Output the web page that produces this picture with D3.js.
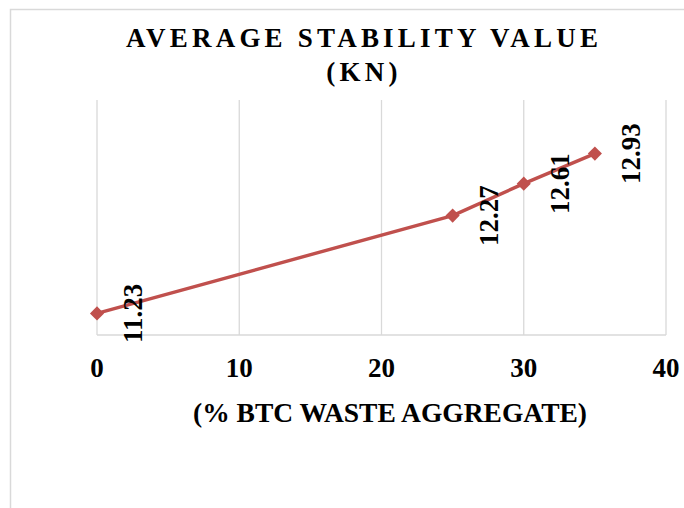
<!DOCTYPE html>
<html lang="en">
<head>
<meta charset="UTF-8">
<title>Average Stability Value</title>
<script src="https://d3js.org/d3.v7.min.js"></script>
<style>
    body {
        margin: 0;
        background: #ffffff;
    }
    svg {
        display: block;
        font-family: 'Liberation Serif', 'Times New Roman', serif;
    }
    .grid line {
        stroke: #d9d9d9;
        stroke-width: 1.3;
    }
    .tick-label {
        font-size: 27px;
        font-weight: 700;
        fill: #000;
    }
</style>
</head>
<body>
<svg id="chart" width="684" height="508"></svg>
<script>
// data
const btcPercent = [0, 25, 30, 35];
const stability = [11.23, 12.27, 12.61, 12.93];
const xTicks = [0, 10, 20, 30, 40];

const svg = d3.select("#chart");

// chart frame (runs off the right and bottom edges)
svg.append("rect")
    .attr("x", 10.5).attr("y", 9.5)
    .attr("width", 800).attr("height", 600)
    .attr("fill", "none")
    .attr("stroke", "#d9d9d9")
    .attr("stroke-width", 1.5);

const plot = { left: 97, right: 666, top: 100, bottom: 335 };

const x = d3.scaleLinear().domain([0, 40]).range([plot.left, plot.right]);
const y = d3.scaleLinear().domain([11, 13.5]).range([plot.bottom, plot.top]);

// vertical gridlines
svg.append("g").attr("class", "grid")
    .selectAll("line")
    .data(xTicks)
    .join("line")
    .attr("x1", d => x(d)).attr("x2", d => x(d))
    .attr("y1", plot.top).attr("y2", plot.bottom);

// bottom axis line
svg.append("line")
    .attr("x1", plot.left).attr("x2", plot.right)
    .attr("y1", plot.bottom).attr("y2", plot.bottom)
    .attr("stroke", "#d9d9d9")
    .attr("stroke-width", 1.3);

// tick labels
svg.append("g")
    .selectAll("text")
    .data(xTicks)
    .join("text")
    .attr("class", "tick-label")
    .attr("x", d => x(d))
    .attr("y", 377)
    .attr("text-anchor", "middle")
    .text(d => d);

// title
const title = svg.append("text")
    .attr("text-anchor", "middle")
    .attr("font-size", 27)
    .attr("font-weight", 700)
    .attr("letter-spacing", "4.2px");
title.append("tspan").attr("x", 364).attr("y", 47).text("AVERAGE STABILITY VALUE");
title.append("tspan").attr("x", 364).attr("y", 81).text("(KN)");

// x axis title
svg.append("text")
    .attr("x", 390).attr("y", 422)
    .attr("text-anchor", "middle")
    .attr("font-size", 27.5)
    .attr("font-weight", 700)
    .text("(% BTC WASTE AGGREGATE)");

const points = btcPercent.map((p, i) => ({ p, v: stability[i] }));

// series line
svg.append("path")
    .datum(points)
    .attr("fill", "none")
    .attr("stroke", "#c0504d")
    .attr("stroke-width", 3.4)
    .attr("stroke-linejoin", "round")
    .attr("d", d3.line().x(d => x(d.p)).y(d => y(d.v)));

// diamond markers
svg.append("g")
    .selectAll("path")
    .data(points)
    .join("path")
    .attr("d", d3.symbol(d3.symbolSquare, 100))
    .attr("transform", d => `translate(${x(d.p)},${y(d.v)}) rotate(45)`)
    .attr("fill", "#c0504d");

// rotated value labels
svg.append("g")
    .selectAll("text")
    .data(points)
    .join("text")
    .attr("transform", d => `translate(${x(d.p) + 45},${y(d.v)}) rotate(-90)`)
    .attr("text-anchor", "middle")
    .attr("font-size", 27)
    .attr("font-weight", 700)
    .text(d => d.v.toFixed(2));
</script>
</body>
</html>
